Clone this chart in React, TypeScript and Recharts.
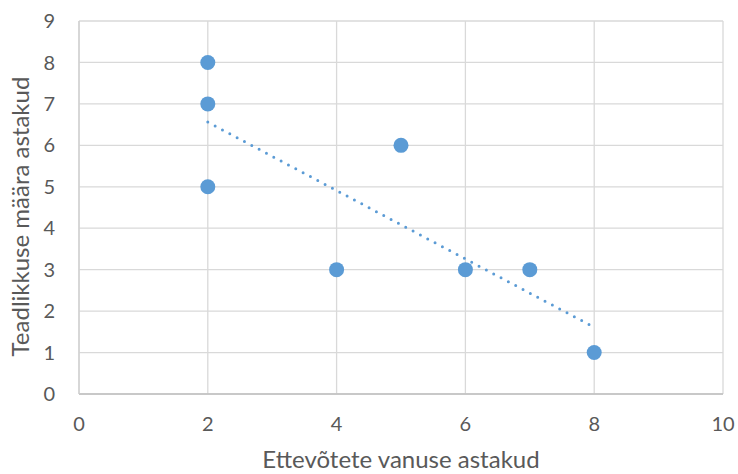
import React from 'react';
import { ScatterChart, Scatter, XAxis, YAxis, CartesianGrid } from 'recharts';

// Ranks: company age (x) vs. research intensity (y)
const ageRanks = [2, 2, 2, 4, 5, 6, 7, 8];
const researchRanks = [8, 7, 5, 3, 6, 3, 3, 1];

// Linear trend endpoints
const trendX = [2, 8];
const trendY = [6.56, 1.61];

const xTicks = [0, 2, 4, 6, 8, 10];
const yTicks = [0, 1, 2, 3, 4, 5, 6, 7, 8, 9];

const xTitle = 'Ettevõtete vanuse astakud';
const yTitle = 'Teadlikkuse määra astakud';

const points = ageRanks.map((x, i) => ({ x, y: researchRanks[i] }));
const trend = trendX.map((x, i) => ({ x, y: trendY[i] }));

const BLUE = '#5B9BD5';
const TEXT = '#595959';
const FONT = 'Lato, "Open Sans", sans-serif';

const Dot = (props: any) => {
  const { cx, cy } = props;
  if (cx == null || cy == null) return <g />;
  return <circle cx={cx} cy={cy} r={7.5} fill={BLUE} />;
};

const XTitle = ({ viewBox }: any) => {
  const cx = viewBox.x + viewBox.width / 2;
  return (
    <text x={cx} y={viewBox.y + 74} textAnchor="middle" fill={TEXT} fontSize={24}>
      {xTitle}
    </text>
  );
};

const YTitle = ({ viewBox }: any) => {
  const x = 29;
  const y = viewBox.y + viewBox.height / 2 + 9;
  return (
    <text x={x} y={y} transform={`rotate(-90, ${x}, ${y})`} textAnchor="middle" fill={TEXT} fontSize={24}>
      {yTitle}
    </text>
  );
};

export default function App() {
  return (
    <div style={{ position: 'absolute', left: 0, top: 0, width: 738, height: 474, background: '#fff' }}>
      <ScatterChart
        width={738}
        height={474}
        margin={{ top: 21, right: 15, bottom: 0, left: 0 }}
        style={{ fontFamily: FONT }}
      >
        <CartesianGrid stroke="#d9d9d9" strokeWidth={1.3} />
        <XAxis
          type="number"
          dataKey="x"
          domain={[0, 10]}
          ticks={xTicks}
          interval={0}
          tickLine={false}
          tickSize={0}
          tickMargin={23}
          axisLine={{ stroke: '#bfbfbf', strokeWidth: 1.5 }}
          tick={{ fill: TEXT, fontSize: 20 }}
          height={80}
          label={<XTitle />}
        />
        <YAxis
          type="number"
          dataKey="y"
          domain={[0, 9]}
          ticks={yTicks}
          interval={0}
          tickLine={false}
          tickSize={0}
          tickMargin={24}
          axisLine={{ stroke: '#d0d0d0', strokeWidth: 1.3 }}
          tick={{ fill: TEXT, fontSize: 20 }}
          width={79}
          label={<YTitle />}
        />
        <Scatter data={points} shape={Dot} isAnimationActive={false} />
        <Scatter
          data={trend}
          shape={() => <g />}
          line={{ stroke: BLUE, strokeWidth: 3, strokeDasharray: '0 8.3', strokeLinecap: 'round' }}
          isAnimationActive={false}
        />
      </ScatterChart>
    </div>
  );
}
